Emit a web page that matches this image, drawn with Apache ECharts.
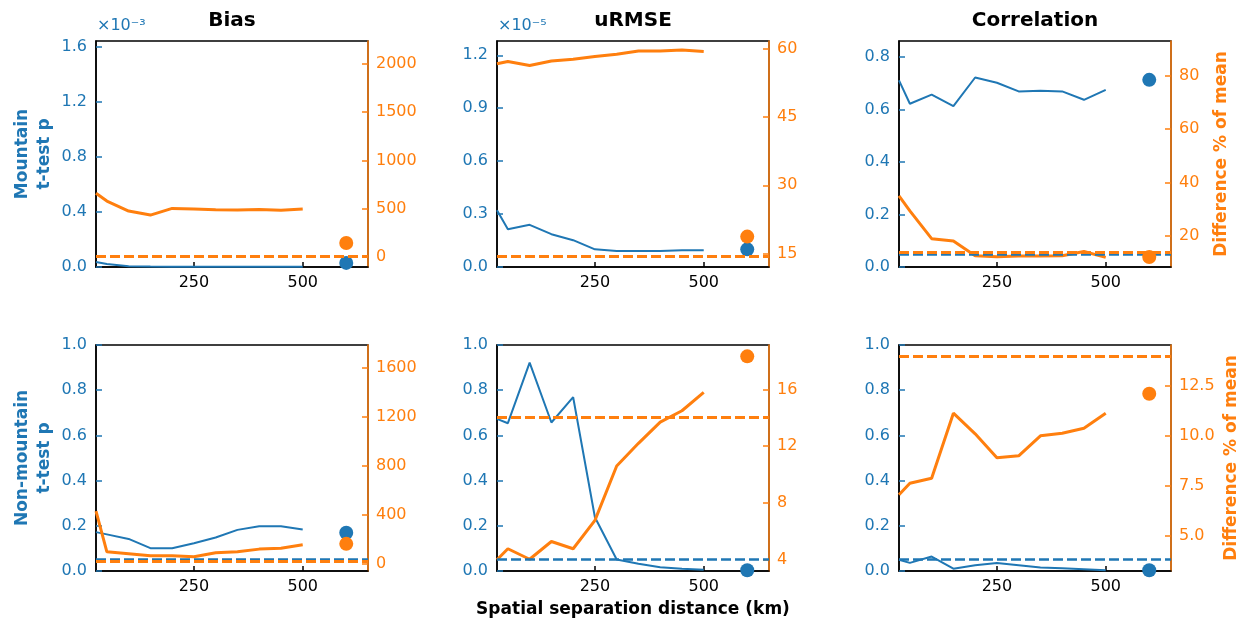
<!DOCTYPE html>
<html>
<head>
<meta charset="utf-8">
<script src="https://cdn.jsdelivr.net/npm/echarts@6/dist/echarts.min.js"></script>
<style>
  html, body { margin: 0; padding: 0; background: #fff; }
  #main { width: 1242px; height: 623px; }
</style>
</head>
<body>
<div id="main"></div>
<script>
var BLUE = '#1f77b4';
var ORANGE = '#ff7f0e';

// separation distances (km) of the line points, and x of the pooled dot
var distances = [25, 50, 100, 150, 200, 250, 300, 350, 400, 450, 500];
var pooledX = 600;
var xTicks = [250, 500];

// t-test p (blue, left axis) -- top row shown in the axis units (x1e-3, x1e-5)
var mountainBiasP = [0.036, 0.022, 0.006, 0.003, 0.002, 0.002, 0.001, 0.001, 0.001, 0.001, 0.001];
var mountainUrmseP = [0.322, 0.214, 0.239, 0.186, 0.152, 0.100, 0.091, 0.090, 0.090, 0.095, 0.095];
var mountainCorrP = [0.711, 0.622, 0.657, 0.613, 0.722, 0.702, 0.669, 0.671, 0.669, 0.637, 0.675];
var nonMountainBiasP = [0.172, 0.162, 0.142, 0.101, 0.101, 0.123, 0.148, 0.182, 0.198, 0.198, 0.184];
var nonMountainUrmseP = [0.673, 0.654, 0.922, 0.657, 0.769, 0.238, 0.051, 0.032, 0.017, 0.010, 0.005];
var nonMountainCorrP = [0.050, 0.036, 0.064, 0.010, 0.025, 0.035, 0.025, 0.015, 0.012, 0.008, 0.003];

// difference % of mean (orange, right axis)
var mountainBiasDiff = [659, 579, 476, 434, 503, 496, 489, 486, 493, 483, 496];
var mountainUrmseDiff = [56.8, 57.3, 56.4, 57.4, 57.8, 58.4, 58.9, 59.6, 59.6, 59.8, 59.5];
var mountainCorrDiff = [35.0, 29.4, 19.0, 18.1, 12.6, 12.2, 12.5, 12.5, 12.6, 14.2, 12.0];
var nonMountainBiasDiff = [430, 98, 82, 65, 65, 57, 90, 98, 120, 128, 155];
var nonMountainUrmseDiff = [3.98, 4.76, 4.02, 5.27, 4.76, 6.76, 10.6, 12.2, 13.7, 14.5, 15.8];
var nonMountainCorrDiff = [7.07, 7.65, 7.90, 11.15, 10.12, 8.92, 9.02, 10.02, 10.15, 10.40, 11.15];

// pooled dots at x = 600: [p, diff]
var pooledDots = [
  [0.03, 145], [0.10, 18.7], [0.713, 12.1],
  [0.169, 163], [0.003, 18.34], [0.003, 12.12]
];
// dashed reference lines: [p threshold (null = off scale), diff reference]
var refLines = [
  [null, 8], [null, 14.3], [0.05, 14.1],
  [0.05, 24], [0.05, 14.02], [0.05, 14.02]
];

// axis tick labels
var leftTicks = [
  [0, 0.4, 0.8, 1.2, 1.6], [0, 0.3, 0.6, 0.9, 1.2], [0, 0.2, 0.4, 0.6, 0.8],
  [0, 0.2, 0.4, 0.6, 0.8, 1.0], [0, 0.2, 0.4, 0.6, 0.8, 1.0], [0, 0.2, 0.4, 0.6, 0.8, 1.0]
];
var rightTicks = [
  [0, 500, 1000, 1500, 2000], [15, 30, 45, 60], [20, 40, 60, 80],
  [0, 400, 800, 1200, 1600], [4, 8, 12, 16], [5, 7.5, 10, 12.5]
];
var leftRange = [[0, 1.645], [0, 1.281], [0, 0.861], [0, 1], [0, 1], [0, 1]];
var rightRange = [[-103, 2235], [12, 61.8], [8.4, 92.9], [-59, 1790], [3.19, 19.14], [3.26, 14.56]];

var pSeries = [mountainBiasP, mountainUrmseP, mountainCorrP, nonMountainBiasP, nonMountainUrmseP, nonMountainCorrP];
var diffSeries = [mountainBiasDiff, mountainUrmseDiff, mountainCorrDiff, nonMountainBiasDiff, nonMountainUrmseDiff, nonMountainCorrDiff];

var colLeft = [96, 497, 899];
var rowTop = [41, 345];
var plotW = 272, plotH = 226;

function pairs(xs, ys) {
  return xs.map(function (x, i) { return [x, ys[i]]; });
}
function dashed(value, color, width) {
  return {
    silent: true, symbol: ['none', 'none'], label: { show: false },
    lineStyle: { type: [10, 4], color: color, width: width },
    data: [{ yAxis: value }]
  };
}

var grids = [], xAxes = [], yAxes = [], series = [];

for (var i = 0; i < 6; i++) {
  var col = i % 3, row = Math.floor(i / 3);
  grids.push({
    left: colLeft[col], top: rowTop[row], width: plotW, height: plotH,
    show: true, borderColor: '#000', borderWidth: 1.5, backgroundColor: 'transparent'
  });
  xAxes.push({
    gridIndex: i, type: 'value', min: 25, max: 650,
    axisLine: { show: true, onZero: false, lineStyle: { color: '#000', width: 1.5 } },
    axisTick: { show: true, inside: true, length: 5, customValues: xTicks, lineStyle: { color: '#000', width: 1.5 } },
    axisLabel: { customValues: xTicks, color: '#000', fontSize: 16, margin: 8 },
    splitLine: { show: false }
  });
  yAxes.push({
    gridIndex: i, type: 'value', position: 'left',
    min: leftRange[i][0], max: leftRange[i][1],
    axisLine: { show: true, onZero: false, lineStyle: { color: '#000', width: 1.5 } },
    axisTick: { show: true, inside: true, length: 6, customValues: leftTicks[i], lineStyle: { color: BLUE, width: 1.5 } },
    axisLabel: { customValues: leftTicks[i], color: BLUE, fontSize: 16, margin: 9,
      formatter: function (v) { return v.toFixed(1); } },
    splitLine: { show: false }
  });
  yAxes.push({
    gridIndex: i, type: 'value', position: 'right',
    min: rightRange[i][0], max: rightRange[i][1],
    axisLine: { show: true, onZero: false, lineStyle: { color: ORANGE, width: 1.5 } },
    axisTick: { show: true, inside: true, length: 6, customValues: rightTicks[i], lineStyle: { color: ORANGE, width: 1.5 } },
    axisLabel: { customValues: rightTicks[i], color: ORANGE, fontSize: 16, margin: 8,
      formatter: (i === 5) ? function (v) { return v.toFixed(1); } : function (v) { return String(v); } },
    splitLine: { show: false }
  });

  var blueLine = {
    type: 'line', xAxisIndex: i, yAxisIndex: 2 * i, data: pairs(distances, pSeries[i]),
    showSymbol: false, lineStyle: { color: BLUE, width: 2 }, z: 2
  };
  if (refLines[i][0] !== null) blueLine.markLine = dashed(refLines[i][0], BLUE, 2.5);
  series.push(blueLine);
  series.push({
    type: 'line', xAxisIndex: i, yAxisIndex: 2 * i + 1, data: pairs(distances, diffSeries[i]),
    showSymbol: false, lineStyle: { color: ORANGE, width: 3 }, z: 3,
    markLine: dashed(refLines[i][1], ORANGE, 3)
  });
  series.push({
    type: 'scatter', xAxisIndex: i, yAxisIndex: 2 * i, data: [[pooledX, pooledDots[i][0]]],
    symbolSize: 14, itemStyle: { color: BLUE, opacity: 1 }, z: 4
  });
  series.push({
    type: 'scatter', xAxisIndex: i, yAxisIndex: 2 * i + 1, data: [[pooledX, pooledDots[i][1]]],
    symbolSize: 14, itemStyle: { color: ORANGE, opacity: 1 }, z: 5
  });
}

var titles = ['Bias', 'uRMSE', 'Correlation'];
var graphics = [];
titles.forEach(function (t, c) {
  graphics.push({ type: 'text', x: colLeft[c] + plotW / 2, y: 21,
    style: { text: t, fill: '#000', font: 'bold 20px "DejaVu Sans"', align: 'center', verticalAlign: 'middle' } });
});
graphics.push({ type: 'text', x: 97, y: 26,
  style: { text: '\u00d710\u207b\u00b3', fill: BLUE, font: '16px "DejaVu Sans"', align: 'left', verticalAlign: 'middle' } });
graphics.push({ type: 'text', x: 498, y: 26,
  style: { text: '\u00d710\u207b\u2075', fill: BLUE, font: '16px "DejaVu Sans"', align: 'left', verticalAlign: 'middle' } });
graphics.push({ type: 'text', x: 34, y: 154, rotation: Math.PI / 2,
  style: { text: 'Mountain\nt-test p', fill: BLUE, font: 'bold 17px "DejaVu Sans"', lineHeight: 22, align: 'center', verticalAlign: 'middle' } });
graphics.push({ type: 'text', x: 34, y: 458, rotation: Math.PI / 2,
  style: { text: 'Non-mountain\nt-test p', fill: BLUE, font: 'bold 17px "DejaVu Sans"', lineHeight: 22, align: 'center', verticalAlign: 'middle' } });
graphics.push({ type: 'text', x: 1222, y: 154, rotation: Math.PI / 2,
  style: { text: 'Difference % of mean', fill: ORANGE, font: 'bold 17px "DejaVu Sans"', align: 'center', verticalAlign: 'middle' } });
graphics.push({ type: 'text', x: 1232, y: 458, rotation: Math.PI / 2,
  style: { text: 'Difference % of mean', fill: ORANGE, font: 'bold 17px "DejaVu Sans"', align: 'center', verticalAlign: 'middle' } });
graphics.push({ type: 'text', x: 633, y: 610,
  style: { text: 'Spatial separation distance (km)', fill: '#000', font: 'bold 17px "DejaVu Sans"', align: 'center', verticalAlign: 'middle' } });

var chart = echarts.init(document.getElementById('main'));
chart.setOption({
  animation: false,
  textStyle: { fontFamily: 'DejaVu Sans' },
  grid: grids,
  xAxis: xAxes,
  yAxis: yAxes,
  series: series,
  graphic: graphics
});
</script>
</body>
</html>
